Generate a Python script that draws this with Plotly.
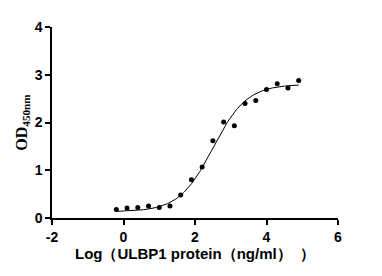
import numpy as np
import plotly.graph_objects as go

# Data
log_conc = [-0.2, 0.1, 0.4, 0.7, 1.0, 1.3, 1.6, 1.9, 2.2, 2.5, 2.8, 3.1, 3.4, 3.7, 4.0, 4.3, 4.6, 4.9]
od450 = [0.18, 0.21, 0.22, 0.25, 0.22, 0.25, 0.48, 0.80, 1.07, 1.62, 2.01, 1.93, 2.40, 2.46, 2.69, 2.81, 2.72, 2.88]

# 4-parameter logistic fit parameters (estimated)
fit_bottom = 0.13
fit_top = 2.80
fit_logec50 = 2.5
fit_hill = 0.92

x_ticks = [-2, 0, 2, 4, 6]
y_ticks = [0, 1, 2, 3, 4]

xf = np.linspace(min(log_conc), max(log_conc), 300)
yf = fit_bottom + (fit_top - fit_bottom) / (1 + 10 ** ((fit_logec50 - xf) * fit_hill))

fig = go.Figure()
fig.add_trace(go.Scatter(x=xf, y=yf, mode="lines",
                         line=dict(color="black", width=1), hoverinfo="skip"))
fig.add_trace(go.Scatter(x=log_conc, y=od450, mode="markers",
                         marker=dict(color="black", size=5)))

axis_font = dict(family="Liberation Sans, Arial", size=14, color="black")
fig.update_layout(
    width=382, height=276,
    margin=dict(l=52, r=44, t=27, b=58),
    paper_bgcolor="white", plot_bgcolor="white",
    showlegend=False,
    xaxis=dict(range=[-2, 6], tickvals=x_ticks, ticktext=[f"<b>{v}</b>" for v in x_ticks],
               showgrid=False, zeroline=False, showline=True, linecolor="black", linewidth=1.5,
               ticks="outside", ticklen=5, tickwidth=1.5, tickcolor="black",
               tickfont=axis_font,
               title=dict(text="<b>Log（ULBP1 protein（ng/ml）  ）</b>",
                          font=dict(family="Liberation Sans, Arial", size=15, color="black"),
                          standoff=5)),
    yaxis=dict(range=[0, 4], tickvals=y_ticks, ticktext=[f"<b>{v}</b>" for v in y_ticks],
               showgrid=False, zeroline=False, showline=True, linecolor="black", linewidth=1.5,
               ticks="outside", ticklen=5, tickwidth=1.5, tickcolor="black",
               tickfont=axis_font,
               title=dict(text="<b>OD<sub>450nm</sub></b>",
                          font=dict(family="Liberation Serif, Times New Roman", size=16, color="black"),
                          standoff=3)),
)

fig.write_html("out.html")
